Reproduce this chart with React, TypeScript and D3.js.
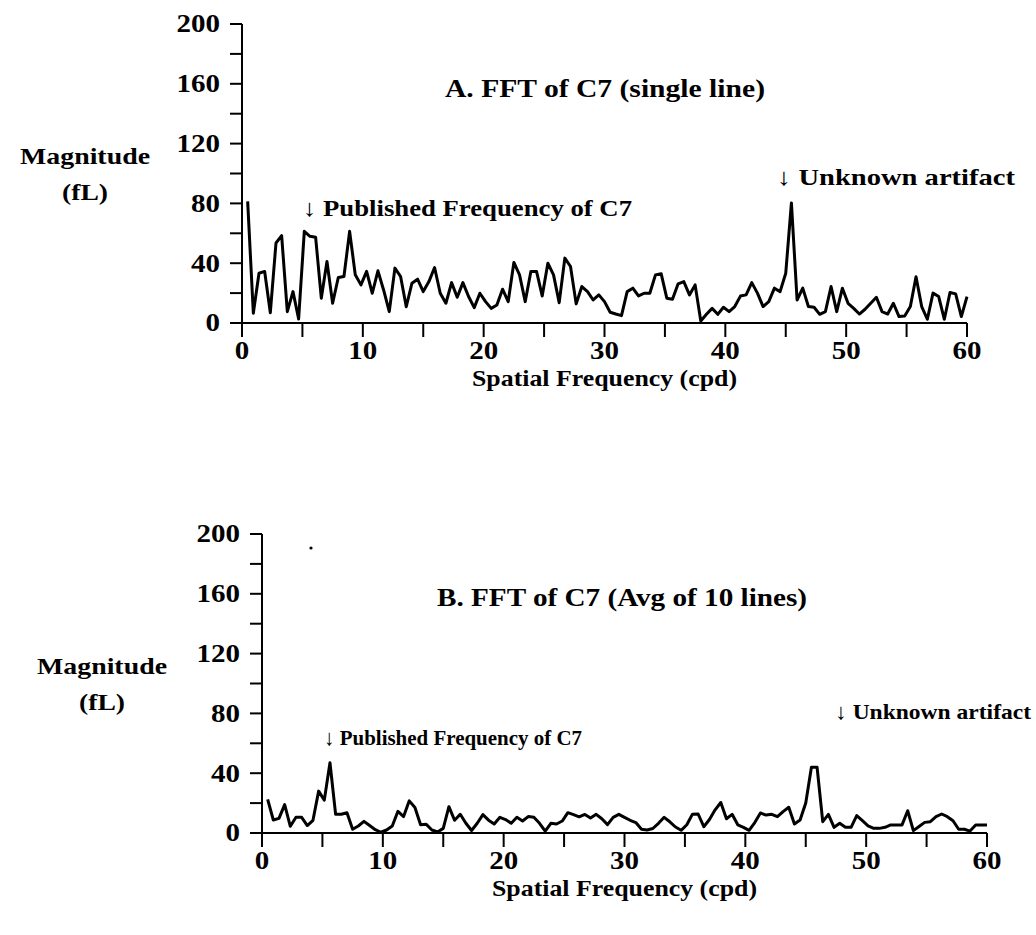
import React from "react";
import * as d3 from "d3";

// FFT magnitude spectra of the C7 target, 128 bins spanning 0–60 cpd.
const BIN_COUNT = 128;
const BIN_WIDTH = 60 / BIN_COUNT;

// Single raster line
const singleLine: number[] = [
  81.4, 6.5, 33.3, 34.5, 6.9, 53.5, 58.4, 7.6, 21, 2.7,
  61.3, 58, 57.3, 16.6, 41.1, 13.2, 30.4, 31.1, 61.3, 32.2,
  25.5, 34.5, 19.9, 34.9, 22.1, 7.6, 36.7, 31.1, 10.9, 26.6,
  29.3, 21, 27.7, 37.1, 19.9, 13.2, 27, 17.2, 27, 17.7,
  10.3, 19.9, 14.3, 9.8, 12, 22.6, 14.3, 40.5, 32.2, 14.3,
  34.5, 34.5, 18.1, 40, 32.2, 13.6, 43.4, 37.8, 12.8, 24.4,
  21, 15.4, 18.8, 14.3, 7.2, 6, 4.9, 21, 23.3, 18.1,
  19.9, 19.9, 32.2, 33, 16.6, 15.9, 26.2, 27.7, 18.8, 25.5,
  1.3, 5.8, 9.8, 5.8, 10.5, 7.6, 11, 18, 18.8, 27,
  20, 11, 14.3, 23.3, 21, 33.3, 80.3, 15.4, 23.3, 11,
  10.5, 5.8, 7.6, 24.4, 7.6, 23.3, 13.2, 9.8, 6, 9.2,
  13.2, 17.2, 7.6, 6, 13.2, 4.3, 4.7, 11, 31, 11,
  2.5, 20, 17.7, 2.5, 20.4, 19.5, 4.3, 17.7,
];

// Average of 10 raster lines
const avgTenLines: number[] = [
  22.5, 8.7, 9.8, 19, 4.5, 10.5, 10.5, 5, 8.5, 28,
  22, 47, 12.5, 12.5, 13.5, 2.5, 4.7, 7.8, 5, 2.2,
  0.5, 2, 4.7, 14.5, 11, 21.5, 17, 5.5, 5.8, 2,
  0.7, 3.1, 17.6, 8.5, 12.5, 6.5, 1.7, 6.5, 12.3, 8.6,
  6, 10.5, 9, 6.5, 10.5, 8, 11, 10.5, 6.5, 1.2,
  6.5, 6, 8, 13.6, 12.3, 10.8, 12.4, 10, 12.5, 9.5,
  5.6, 10.5, 12.5, 10.5, 8.5, 7, 2.5, 2, 3, 6.5,
  10.5, 7.5, 4, 1.8, 5.5, 12.6, 12.7, 4.2, 9, 15.5,
  20.4, 9.5, 12.5, 5.5, 3.8, 1.8, 7, 13.4, 12, 12.5,
  10.9, 14.3, 17.2, 6, 8.7, 20, 44, 44, 7.6, 12.5,
  3.8, 6.5, 3.8, 3.8, 11.6, 8.2, 4.7, 3.1, 3.1, 3.8,
  5.4, 5.4, 5.4, 14.9, 1.6, 4.4, 7.1, 7.6, 10.9, 12.7,
  10.9, 8.2, 2.5, 2.5, 1.3, 5.4, 5.4, 5.4,
];

const xTickValues = [0, 10, 20, 30, 40, 50, 60];
const xMinorTicks = [0, 5, 10, 15, 20, 25, 30, 35, 40, 45, 50, 55, 60];
const yTickValues = [0, 40, 80, 120, 160, 200];
const yMinorTicks = [0, 20, 40, 60, 80, 100, 120, 140, 160, 180, 200];

const panelTitles = ["A. FFT of C7 (single line)", "B. FFT of C7 (Avg of 10 lines)"];
const peakNotes = ["↓ Published Frequency of C7", "↓ Unknown artifact"];
const xTitle = "Spatial Frequency (cpd)";
const yTitle = ["Magnitude", "(fL)"];

const FONT = "'Liberation Serif', 'Times New Roman', serif";
const STRETCH = 1.16;

type TextBoxProps = {
  x: number; // left edge
  y: number; // vertical centre
  width: number;
  size: number;
  children: React.ReactNode;
};

// Wide bold serif text fitted to a set width.
function TextBox({ x, y, width, size, children }: TextBoxProps) {
  return (
    <text
      x={x}
      y={y}
      textLength={width}
      lengthAdjust="spacingAndGlyphs"
      dominantBaseline="central"
      fontFamily={FONT}
      fontWeight="bold"
      fontSize={size}
      fill="#000"
    >
      {children}
    </text>
  );
}

type NumProps = {
  x: number;
  y: number;
  anchor: "middle" | "end";
  children: React.ReactNode;
};

function Num({ x, y, anchor, children }: NumProps) {
  return (
    <text
      transform={`translate(${x},${y}) scale(${STRETCH},1)`}
      textAnchor={anchor}
      dominantBaseline="central"
      fontFamily={FONT}
      fontWeight="bold"
      fontSize={25}
      fill="#000"
    >
      {children}
    </text>
  );
}

type Note = { x: number; y: number; width: number; size: number };

type PanelProps = {
  ox: number; // plot x = 0
  oy: number; // plot y = 0
  values: number[];
  title: string;
  titleBox: Note;
  pub: Note;
  art: Note;
  yTitleX: number;
};

const PLOT_W = 725;
const PLOT_H = 299;

function Panel(p: PanelProps) {
  const x = d3.scaleLinear().domain([0, 60]).range([p.ox, p.ox + PLOT_W]);
  const y = d3.scaleLinear().domain([0, 200]).range([p.oy, p.oy - PLOT_H]);
  const pts: [number, number][] = p.values.map((v, i) => [(i + 1) * BIN_WIDTH, v]);
  const path = d3
    .line<[number, number]>()
    .x((d) => x(d[0]))
    .y((d) => y(d[1]))(pts) as string;

  const xMid = (x(0) + x(60)) / 2;
  const xTitleW = 265;
  const magW = 130;
  const flW = 46;

  return (
    <g>
      {/* axes */}
      <line x1={x(0)} x2={x(60)} y1={y(0)} y2={y(0)} stroke="#000" strokeWidth={2} />
      <line x1={x(0)} x2={x(0)} y1={y(200)} y2={y(0) + 1} stroke="#000" strokeWidth={2} />
      {yMinorTicks.map((t) => (
        <line key={"ym" + t} x1={x(0) - 12} x2={x(0)} y1={y(t)} y2={y(t)} stroke="#000" strokeWidth={2} />
      ))}
      {xMinorTicks.map((t) => (
        <line key={"xm" + t} x1={x(t)} x2={x(t)} y1={y(0)} y2={y(0) + 14} stroke="#000" strokeWidth={2} />
      ))}
      {yTickValues.map((t) => (
        <Num key={"yl" + t} x={x(0) - 22} y={y(t)} anchor="end">
          {t}
        </Num>
      ))}
      {xTickValues.map((t) => (
        <Num key={"xl" + t} x={x(t)} y={y(0) + 28} anchor="middle">
          {t}
        </Num>
      ))}
      <TextBox x={xMid - xTitleW / 2} y={y(0) + 55} width={xTitleW} size={23}>
        {xTitle}
      </TextBox>
      <TextBox x={p.yTitleX - magW / 2} y={y(120) + 12} width={magW} size={24}>
        {yTitle[0]}
      </TextBox>
      <TextBox x={p.yTitleX - flW / 2} y={y(80) - 11} width={flW} size={24}>
        {yTitle[1]}
      </TextBox>

      {/* spectrum */}
      <path d={path} fill="none" stroke="#000" strokeWidth={3} strokeLinejoin="round" />

      {/* annotations */}
      <TextBox {...p.titleBox}>{p.title}</TextBox>
      <TextBox {...p.pub}>{peakNotes[0]}</TextBox>
      <TextBox {...p.art}>{peakNotes[1]}</TextBox>
    </g>
  );
}

export default function App() {
  return (
    <svg
      width={1036}
      height={935}
      viewBox="0 0 1036 935"
      style={{ position: "absolute", left: 0, top: 0, background: "#fff" }}
    >
      <rect x={0} y={0} width={1036} height={935} fill="#fff" />
      <Panel
        ox={242}
        oy={323}
        values={singleLine}
        title={panelTitles[0]}
        titleBox={{ x: 445, y: 88, width: 320, size: 25 }}
        pub={{ x: 303, y: 208, width: 329, size: 24 }}
        art={{ x: 777, y: 177, width: 238, size: 24 }}
        yTitleX={85}
      />
      <Panel
        ox={262}
        oy={833}
        values={avgTenLines}
        title={panelTitles[1]}
        titleBox={{ x: 437, y: 597, width: 370, size: 25 }}
        pub={{ x: 324, y: 737, width: 258, size: 22 }}
        art={{ x: 835, y: 711, width: 196, size: 22 }}
        yTitleX={102}
      />
      <circle cx={311} cy={548} r={1.6} fill="#000" />
    </svg>
  );
}
